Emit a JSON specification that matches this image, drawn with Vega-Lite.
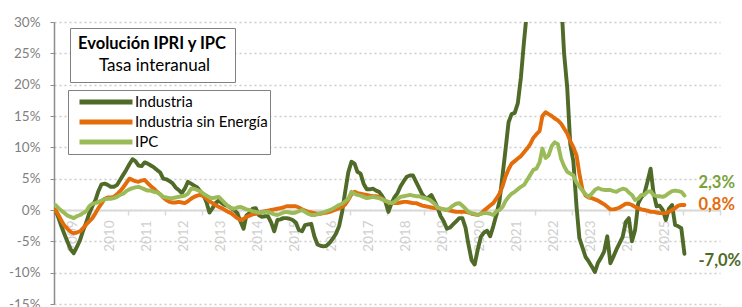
{
"$schema": "https://vega.github.io/schema/vega-lite/v6.json",
"width": 666, "height": 282,
"autosize": {"type": "none"},
"padding": {"left": 54, "top": 22, "right": 22, "bottom": 3},
"background": "white",
"config": {"view": {"stroke": null}, "font": "Lato"},
"datasets": {
"series": [
{"d":"2009-01-15","ind":0.0,"ise":0.0,"ipc":0.8},{"d":"2009-02-15","ind":-1.3,"ise":-0.8,"ipc":0.3},{"d":"2009-03-15","ind":-2.6,"ise":-1.7,"ipc":-0.1},{"d":"2009-04-15","ind":-3.9,"ise":-2.5,"ipc":-0.5},{"d":"2009-05-15","ind":-5.1,"ise":-3.0,"ipc":-0.9},{"d":"2009-06-15","ind":-6.3,"ise":-3.5,"ipc":-1.1},{"d":"2009-07-15","ind":-6.9,"ise":-3.7,"ipc":-1.3},{"d":"2009-08-15","ind":-5.9,"ise":-3.6,"ipc":-1.0},{"d":"2009-09-15","ind":-4.8,"ise":-3.4,"ipc":-0.8},{"d":"2009-10-15","ind":-3.3,"ise":-2.9,"ipc":-0.5},{"d":"2009-11-15","ind":-2.0,"ise":-2.3,"ipc":-0.2},{"d":"2009-12-15","ind":-0.5,"ise":-1.8,"ipc":0.6},
{"d":"2010-01-15","ind":0.6,"ise":-1.3,"ipc":1.0},{"d":"2010-02-15","ind":1.6,"ise":-0.5,"ipc":1.1},{"d":"2010-03-15","ind":3.0,"ise":0.3,"ipc":1.3},{"d":"2010-04-15","ind":4.1,"ise":1.0,"ipc":1.5},{"d":"2010-05-15","ind":4.2,"ise":1.8,"ipc":1.7},{"d":"2010-06-15","ind":4.0,"ise":2.0,"ipc":1.8},{"d":"2010-07-15","ind":3.7,"ise":2.0,"ipc":1.8},{"d":"2010-08-15","ind":3.7,"ise":2.1,"ipc":1.9},{"d":"2010-09-15","ind":4.0,"ise":2.5,"ipc":2.1},{"d":"2010-10-15","ind":4.8,"ise":3.0,"ipc":2.4},{"d":"2010-11-15","ind":5.6,"ise":3.6,"ipc":2.6},{"d":"2010-12-15","ind":6.4,"ise":4.3,"ipc":3.0},
{"d":"2011-01-15","ind":7.3,"ise":5.0,"ipc":3.3},{"d":"2011-02-15","ind":8.1,"ise":4.8,"ipc":3.5},{"d":"2011-03-15","ind":7.8,"ise":4.6,"ipc":3.6},{"d":"2011-04-15","ind":7.1,"ise":4.5,"ipc":3.7},{"d":"2011-05-15","ind":7.0,"ise":4.7,"ipc":3.5},{"d":"2011-06-15","ind":7.6,"ise":4.8,"ipc":3.3},{"d":"2011-07-15","ind":7.4,"ise":4.3,"ipc":3.1},{"d":"2011-08-15","ind":7.1,"ise":3.8,"ipc":3.1},{"d":"2011-09-15","ind":6.8,"ise":3.4,"ipc":2.9},{"d":"2011-10-15","ind":6.4,"ise":2.9,"ipc":2.8},{"d":"2011-11-15","ind":6.0,"ise":2.5,"ipc":2.5},{"d":"2011-12-15","ind":5.0,"ise":2.0,"ipc":2.1},
{"d":"2012-01-15","ind":4.9,"ise":1.6,"ipc":2.0},{"d":"2012-02-15","ind":4.6,"ise":1.3,"ipc":1.9},{"d":"2012-03-15","ind":4.3,"ise":1.2,"ipc":1.9},{"d":"2012-04-15","ind":3.6,"ise":1.2,"ipc":2.0},{"d":"2012-05-15","ind":3.2,"ise":1.3,"ipc":2.1},{"d":"2012-06-15","ind":2.7,"ise":1.2,"ipc":2.2},{"d":"2012-07-15","ind":3.4,"ise":1.1,"ipc":2.3},{"d":"2012-08-15","ind":4.5,"ise":1.4,"ipc":2.6},{"d":"2012-09-15","ind":4.2,"ise":1.8,"ipc":3.4},{"d":"2012-10-15","ind":3.9,"ise":2.1,"ipc":3.4},{"d":"2012-11-15","ind":3.6,"ise":2.3,"ipc":3.2},{"d":"2012-12-15","ind":3.0,"ise":2.4,"ipc":3.0},
{"d":"2013-01-15","ind":2.4,"ise":2.2,"ipc":2.6},{"d":"2013-02-15","ind":1.2,"ise":1.8,"ipc":2.3},{"d":"2013-03-15","ind":-0.4,"ise":1.4,"ipc":2.0},{"d":"2013-04-15","ind":0.3,"ise":1.1,"ipc":1.9},{"d":"2013-05-15","ind":1.1,"ise":0.8,"ipc":2.0},{"d":"2013-06-15","ind":1.5,"ise":0.5,"ipc":2.1},{"d":"2013-07-15","ind":1.1,"ise":0.3,"ipc":1.6},{"d":"2013-08-15","ind":0.8,"ise":0.0,"ipc":1.1},{"d":"2013-09-15","ind":0.6,"ise":-0.3,"ipc":0.6},{"d":"2013-10-15","ind":0.3,"ise":-0.5,"ipc":0.3},{"d":"2013-11-15","ind":0.0,"ise":-0.9,"ipc":0.2},{"d":"2013-12-15","ind":-0.5,"ise":-1.3,"ipc":0.4},
{"d":"2014-01-15","ind":-1.8,"ise":-1.6,"ipc":0.5},{"d":"2014-02-15","ind":-3.0,"ise":-1.4,"ipc":0.3},{"d":"2014-03-15","ind":-0.9,"ise":-1.1,"ipc":0.1},{"d":"2014-04-15","ind":-0.5,"ise":-0.9,"ipc":0.0},{"d":"2014-05-15","ind":0.2,"ise":-0.7,"ipc":-0.2},{"d":"2014-06-15","ind":0.3,"ise":-0.6,"ipc":-0.3},{"d":"2014-07-15","ind":-0.8,"ise":-0.5,"ipc":-0.4},{"d":"2014-08-15","ind":-1.1,"ise":-0.3,"ipc":-0.4},{"d":"2014-09-15","ind":-1.0,"ise":-0.2,"ipc":-0.3},{"d":"2014-10-15","ind":-1.0,"ise":-0.1,"ipc":-0.3},{"d":"2014-11-15","ind":-2.0,"ise":0.0,"ipc":-0.5},{"d":"2014-12-15","ind":-3.4,"ise":0.1,"ipc":-0.7},
{"d":"2015-01-15","ind":-1.6,"ise":0.2,"ipc":-0.8},{"d":"2015-02-15","ind":-1.5,"ise":0.3,"ipc":-0.6},{"d":"2015-03-15","ind":-1.3,"ise":0.4,"ipc":-0.4},{"d":"2015-04-15","ind":-1.3,"ise":0.6,"ipc":-0.3},{"d":"2015-05-15","ind":-1.4,"ise":0.6,"ipc":-0.4},{"d":"2015-06-15","ind":-1.6,"ise":0.6,"ipc":-0.5},{"d":"2015-07-15","ind":-2.0,"ise":0.6,"ipc":-0.4},{"d":"2015-08-15","ind":-3.2,"ise":0.4,"ipc":-0.2},{"d":"2015-09-15","ind":-3.4,"ise":0.1,"ipc":0.0},{"d":"2015-10-15","ind":-2.4,"ise":-0.1,"ipc":-0.3},{"d":"2015-11-15","ind":-2.3,"ise":-0.3,"ipc":-0.6},{"d":"2015-12-15","ind":-2.2,"ise":-0.4,"ipc":-0.8},
{"d":"2016-01-15","ind":-4.2,"ise":-0.5,"ipc":-0.8},{"d":"2016-02-15","ind":-5.5,"ise":-0.6,"ipc":-0.7},{"d":"2016-03-15","ind":-5.7,"ise":-0.6,"ipc":-0.5},{"d":"2016-04-15","ind":-5.8,"ise":-0.5,"ipc":-0.4},{"d":"2016-05-15","ind":-5.7,"ise":-0.4,"ipc":-0.2},{"d":"2016-06-15","ind":-5.2,"ise":-0.3,"ipc":0.0},{"d":"2016-07-15","ind":-4.6,"ise":-0.1,"ipc":0.2},{"d":"2016-08-15","ind":-3.8,"ise":0.1,"ipc":0.5},{"d":"2016-09-15","ind":-2.6,"ise":0.3,"ipc":0.8},{"d":"2016-10-15","ind":-0.3,"ise":0.5,"ipc":1.0},{"d":"2016-11-15","ind":3.0,"ise":0.9,"ipc":1.4},{"d":"2016-12-15","ind":6.0,"ise":1.6,"ipc":1.8},
{"d":"2017-01-15","ind":7.7,"ise":2.5,"ipc":2.9},{"d":"2017-02-15","ind":7.4,"ise":2.9,"ipc":2.6},{"d":"2017-03-15","ind":6.1,"ise":2.7,"ipc":2.4},{"d":"2017-04-15","ind":5.8,"ise":2.6,"ipc":2.3},{"d":"2017-05-15","ind":4.2,"ise":2.5,"ipc":2.1},{"d":"2017-06-15","ind":3.3,"ise":2.4,"ipc":1.9},{"d":"2017-07-15","ind":3.3,"ise":2.3,"ipc":2.0},{"d":"2017-08-15","ind":3.4,"ise":2.2,"ipc":2.1},{"d":"2017-09-15","ind":3.1,"ise":2.2,"ipc":2.0},{"d":"2017-10-15","ind":2.9,"ise":2.1,"ipc":1.9},{"d":"2017-11-15","ind":2.2,"ise":1.8,"ipc":1.7},{"d":"2017-12-15","ind":1.4,"ise":1.4,"ipc":1.5},
{"d":"2018-01-15","ind":-0.3,"ise":1.2,"ipc":1.3},{"d":"2018-02-15","ind":1.1,"ise":1.1,"ipc":1.1},{"d":"2018-03-15","ind":2.0,"ise":1.1,"ipc":1.3},{"d":"2018-04-15","ind":2.7,"ise":1.1,"ipc":1.7},{"d":"2018-05-15","ind":3.8,"ise":1.2,"ipc":2.1},{"d":"2018-06-15","ind":4.6,"ise":1.3,"ipc":2.2},{"d":"2018-07-15","ind":5.3,"ise":1.3,"ipc":2.3},{"d":"2018-08-15","ind":5.5,"ise":1.2,"ipc":2.4},{"d":"2018-09-15","ind":5.5,"ise":1.1,"ipc":2.3},{"d":"2018-10-15","ind":4.5,"ise":1.1,"ipc":2.2},{"d":"2018-11-15","ind":3.5,"ise":0.9,"ipc":2.2},{"d":"2018-12-15","ind":2.5,"ise":0.7,"ipc":2.0},
{"d":"2019-01-15","ind":1.9,"ise":0.6,"ipc":1.9},{"d":"2019-02-15","ind":2.0,"ise":0.5,"ipc":1.7},{"d":"2019-03-15","ind":2.4,"ise":0.4,"ipc":1.4},{"d":"2019-04-15","ind":1.4,"ise":0.3,"ipc":1.0},{"d":"2019-05-15","ind":0.4,"ise":0.3,"ipc":0.4},{"d":"2019-06-15","ind":-1.0,"ise":0.2,"ipc":0.2},{"d":"2019-07-15","ind":-1.8,"ise":0.1,"ipc":0.1},{"d":"2019-08-15","ind":-3.0,"ise":0.0,"ipc":0.0},{"d":"2019-09-15","ind":-2.8,"ise":-0.1,"ipc":0.3},{"d":"2019-10-15","ind":-2.3,"ise":-0.2,"ipc":0.7},{"d":"2019-11-15","ind":-1.8,"ise":-0.3,"ipc":1.0},{"d":"2019-12-15","ind":-1.3,"ise":-0.3,"ipc":1.1},
{"d":"2020-01-15","ind":-1.3,"ise":-0.3,"ipc":0.7},{"d":"2020-02-15","ind":-2.8,"ise":-0.3,"ipc":0.2},{"d":"2020-03-15","ind":-5.5,"ise":-0.4,"ipc":-0.3},{"d":"2020-04-15","ind":-8.0,"ise":-0.6,"ipc":-0.5},{"d":"2020-05-15","ind":-8.7,"ise":-0.7,"ipc":-0.6},{"d":"2020-06-15","ind":-6.3,"ise":-0.8,"ipc":-0.8},{"d":"2020-07-15","ind":-4.3,"ise":-0.6,"ipc":-0.6},{"d":"2020-08-15","ind":-3.6,"ise":-0.1,"ipc":-0.5},{"d":"2020-09-15","ind":-3.3,"ise":0.3,"ipc":-0.5},{"d":"2020-10-15","ind":-4.2,"ise":0.7,"ipc":-0.6},{"d":"2020-11-15","ind":-2.6,"ise":1.1,"ipc":-0.8},{"d":"2020-12-15","ind":-0.8,"ise":1.8,"ipc":-0.2},
{"d":"2021-01-15","ind":1.4,"ise":2.6,"ipc":0.0},{"d":"2021-02-15","ind":5.6,"ise":3.8,"ipc":0.5},{"d":"2021-03-15","ind":9.5,"ise":5.3,"ipc":1.4},{"d":"2021-04-15","ind":14.0,"ise":6.5,"ipc":2.1},{"d":"2021-05-15","ind":15.3,"ise":7.4,"ipc":2.6},{"d":"2021-06-15","ind":15.5,"ise":7.8,"ipc":2.9},{"d":"2021-07-15","ind":17.0,"ise":8.2,"ipc":3.3},{"d":"2021-08-15","ind":21.2,"ise":8.6,"ipc":3.7},{"d":"2021-09-15","ind":27.0,"ise":9.2,"ipc":4.0},{"d":"2021-10-15","ind":32.0,"ise":9.8,"ipc":4.8},{"d":"2021-11-15","ind":33.1,"ise":10.5,"ipc":5.6},{"d":"2021-12-15","ind":35.6,"ise":11.5,"ipc":6.4},
{"d":"2022-01-15","ind":35.7,"ise":12.1,"ipc":6.6},{"d":"2022-02-15","ind":37.2,"ise":12.6,"ipc":7.6},{"d":"2022-03-15","ind":46.6,"ise":15.0,"ipc":9.8},{"d":"2022-04-15","ind":45.1,"ise":15.6,"ipc":8.3},{"d":"2022-05-15","ind":43.6,"ise":15.3,"ipc":8.7},{"d":"2022-06-15","ind":43.6,"ise":15.0,"ipc":10.2},{"d":"2022-07-15","ind":43.0,"ise":14.6,"ipc":10.8},{"d":"2022-08-15","ind":41.0,"ise":14.3,"ipc":10.5},{"d":"2022-09-15","ind":34.0,"ise":13.8,"ipc":8.2},{"d":"2022-10-15","ind":25.0,"ise":13.0,"ipc":7.0},{"d":"2022-11-15","ind":19.5,"ise":12.2,"ipc":6.1},{"d":"2022-12-15","ind":10.5,"ise":11.0,"ipc":5.8},
{"d":"2023-01-15","ind":7.7,"ise":10.0,"ipc":5.5},{"d":"2023-02-15","ind":0.5,"ise":8.7,"ipc":4.4},{"d":"2023-03-15","ind":-4.5,"ise":5.8,"ipc":3.7},{"d":"2023-04-15","ind":-6.0,"ise":3.2,"ipc":3.1},{"d":"2023-05-15","ind":-7.5,"ise":2.3,"ipc":2.5},{"d":"2023-06-15","ind":-8.2,"ise":2.0,"ipc":2.1},{"d":"2023-07-15","ind":-9.0,"ise":1.9,"ipc":2.6},{"d":"2023-08-15","ind":-9.9,"ise":1.7,"ipc":3.2},{"d":"2023-09-15","ind":-8.4,"ise":1.5,"ipc":3.5},{"d":"2023-10-15","ind":-7.6,"ise":1.2,"ipc":3.3},{"d":"2023-11-15","ind":-6.6,"ise":0.9,"ipc":3.2},{"d":"2023-12-15","ind":-4.2,"ise":0.5,"ipc":3.2},
{"d":"2024-01-15","ind":-8.5,"ise":0.1,"ipc":3.2},{"d":"2024-02-15","ind":-7.4,"ise":0.1,"ipc":3.0},{"d":"2024-03-15","ind":-6.3,"ise":0.2,"ipc":2.9},{"d":"2024-04-15","ind":-5.3,"ise":0.4,"ipc":3.2},{"d":"2024-05-15","ind":-4.3,"ise":0.7,"ipc":3.4},{"d":"2024-06-15","ind":-1.9,"ise":1.0,"ipc":3.3},{"d":"2024-07-15","ind":-1.3,"ise":1.0,"ipc":2.8},{"d":"2024-08-15","ind":-5.0,"ise":0.8,"ipc":2.4},{"d":"2024-09-15","ind":-3.2,"ise":0.5,"ipc":1.6},{"d":"2024-10-15","ind":1.0,"ise":0.3,"ipc":1.8},{"d":"2024-11-15","ind":2.0,"ise":0.1,"ipc":2.4},{"d":"2024-12-15","ind":2.6,"ise":0.0,"ipc":2.4},
{"d":"2025-01-15","ind":4.5,"ise":-0.1,"ipc":2.9},{"d":"2025-02-15","ind":6.6,"ise":-0.3,"ipc":3.0},{"d":"2025-03-15","ind":2.8,"ise":-0.3,"ipc":2.4},{"d":"2025-04-15","ind":0.6,"ise":-0.4,"ipc":2.2},{"d":"2025-05-15","ind":0.7,"ise":-0.5,"ipc":2.2},{"d":"2025-06-15","ind":0.0,"ise":-0.5,"ipc":2.1},{"d":"2025-07-15","ind":-1.6,"ise":-0.5,"ipc":2.3},{"d":"2025-08-15","ind":0.2,"ise":-0.3,"ipc":2.7},{"d":"2025-09-15","ind":0.8,"ise":0.0,"ipc":3.0},{"d":"2025-10-15","ind":-2.4,"ise":0.3,"ipc":3.1},{"d":"2025-11-15","ind":-2.6,"ise":0.7,"ipc":3.0},{"d":"2025-12-15","ind":-2.9,"ise":0.8,"ipc":2.9},
{"d":"2026-01-15","ind":-7.0,"ise":0.8,"ipc":2.3}
],
"ends": [
{"k":"ipc","d":"2026-01-15","v":2.3,"t":"2,3%"},
{"k":"ise","d":"2026-01-15","v":0.8,"t":"0,8%"},
{"k":"ind","d":"2026-01-15","v":-7.0,"t":"-7,0%"}
],
"box": [{"t":"Tasa interanual"}]
},
"layer": [
{
"data": {"name": "series"},
"transform": [{"fold": ["ind", "ise", "ipc"], "as": ["k", "v"]}],
"mark": {"type": "line", "strokeWidth": 3.9, "clip": true, "strokeJoin": "round", "strokeCap": "round"},
"encoding": {
"x": {"field": "d", "type": "temporal",
"scale": {"type": "utc", "nice": false, "domain": [{"year": 2009, "month": 1, "date": 1, "utc": true}, {"year": 2027, "month": 1, "date": 1, "utc": true}]},
"axis": {"orient": "bottom", "offset": -94, "title": null, "grid": false, "zindex": 0,
"tickCount": {"interval": "year", "step": 1},
"labelExpr": "utcyear(datum.value) <= 2025 ? '' + utcyear(datum.value) : ''",
"labelAngle": -90, "labelOffset": 18.5, "labelPadding": 5, "labelFontSize": 13.5, "labelColor": "#cfcfcf",
"labelFlush": false, "labelOverlap": false, "labelBound": false,
"domainColor": "#d9d9d9", "domainWidth": 2, "tickColor": "#d9d9d9", "tickWidth": 1.5, "tickSize": 5}},
"y": {"field": "v", "type": "quantitative",
"scale": {"domain": [-15, 30], "nice": false, "zero": false},
"axis": {"title": null, "values": [-15, -10, -5, 0, 5, 10, 15, 20, 25, 30], "tickCount": 12, "labelExpr": "datum.value + '%'",
"labelOverlap": false, "labelFlush": false,
"grid": true, "gridDash": [2, 3], "gridColor": "#cccccc", "gridWidth": 1.3, "zindex": 0,
"domainColor": "#8c8c8c", "domainWidth": 1.5, "tickColor": "#8c8c8c", "tickSize": 4,
"labelColor": "#7f7f7f", "labelFontSize": 13.5, "labelPadding": 10}},
"color": {"field": "k", "type": "nominal",
"scale": {"domain": ["ind", "ise", "ipc"], "range": ["#506a28", "#e46c0a", "#9bbb59"]},
"legend": {"title": null, "orient": "none", "legendX": 14, "legendY": 68, "direction": "vertical",
"strokeColor": "#808080", "fillColor": "white", "padding": 2, "symbolOffset": 7,
"symbolType": "stroke", "symbolSize": 2809, "symbolStrokeWidth": 5, "clipHeight": 20, "rowPadding": 0,
"labelFontSize": 15, "labelColor": "#000000", "labelOffset": 0, "labelLimit": 300,
"labelExpr": "datum.value == 'ind' ? 'Industria' : datum.value == 'ise' ? 'Industria sin Energía' : 'IPC'"}}
}
},
{
"data": {"name": "ends"},
"transform": [{"filter": "datum.k == 'ipc'"}],
"mark": {"type": "text", "align": "left", "baseline": "middle", "dx": 14, "dy": -13, "fontSize": 16.5, "fontWeight": "bold", "color": "#79a33a"},
"encoding": {"x": {"field": "d", "type": "temporal"}, "y": {"field": "v", "type": "quantitative"}, "text": {"field": "t"}}
},
{
"data": {"name": "ends"},
"transform": [{"filter": "datum.k == 'ise'"}],
"mark": {"type": "text", "align": "left", "baseline": "middle", "dx": 14, "dy": 0, "fontSize": 16.5, "fontWeight": "bold", "color": "#e46c0a"},
"encoding": {"x": {"field": "d", "type": "temporal"}, "y": {"field": "v", "type": "quantitative"}, "text": {"field": "t"}}
},
{
"data": {"name": "ends"},
"transform": [{"filter": "datum.k == 'ind'"}],
"mark": {"type": "text", "align": "left", "baseline": "middle", "dx": 14, "dy": 7, "fontSize": 16.5, "fontWeight": "bold", "color": "#506a28"},
"encoding": {"x": {"field": "d", "type": "temporal"}, "y": {"field": "v", "type": "quantitative"}, "text": {"field": "t"}}
},
{
"data": {"name": "box"},
"mark": {"type": "point", "opacity": 0},
"encoding": {
"shape": {"field": "t", "type": "nominal", "scale": {"range": ["circle"]},
"legend": {"title": "Evolución IPRI y IPC", "orient": "none", "legendX": 16, "legendY": 6,
"strokeColor": "#808080", "fillColor": "white", "padding": 8,
"titleFontSize": 16.5, "titleFontWeight": "bold", "titleColor": "#000000", "titleAnchor": "middle", "titlePadding": 5,
"labelFontSize": 17, "labelColor": "#000000", "symbolSize": 0, "symbolOpacity": 0, "labelOffset": -11}}
}
}
]
}
